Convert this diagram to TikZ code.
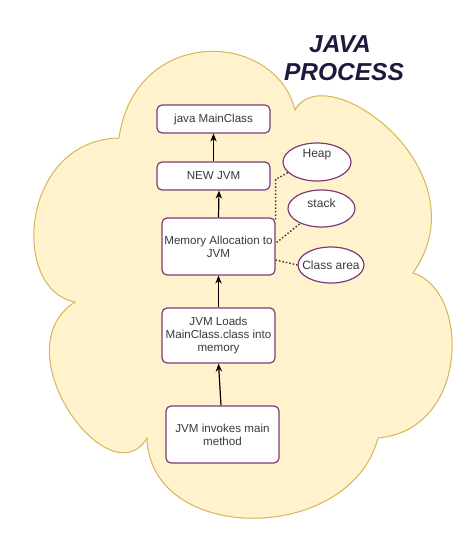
\documentclass[tikz,border=0pt]{standalone}
\usepackage{fontspec}
\setmainfont{Liberation Sans}
\usetikzlibrary{arrows.meta,shapes.geometric}
\definecolor{cloudfill}{HTML}{FFF2CC}
\definecolor{cloudline}{HTML}{D6B656}
\definecolor{boxline}{HTML}{7D3C78}
\definecolor{txt}{HTML}{3A3A3A}
\definecolor{titlec}{HTML}{1E1A3C}
\begin{document}
\begin{tikzpicture}[x=1pt,y=-1pt,
  box/.style={draw=boxline, fill=white, line width=1.2pt, rounded corners=5pt,
    minimum width=113pt, inner sep=0pt, align=center, text=txt,
    font=\fontsize{11.6}{13}\selectfont},
  ell/.style={ellipse, draw=boxline, fill=white, line width=1.2pt, inner sep=0pt},
  ellt/.style={text=txt, inner sep=0pt, font=\fontsize{12}{13}\selectfont},
  arr/.style={-{Stealth[length=8pt,width=6.5pt]}, line width=1.2pt, black},
  dotln/.style={dash pattern=on 1.5pt off 2pt, line width=1.4pt, draw=txt},
  titlest/.style={text=titlec, font=\fontsize{24.5}{28}\selectfont\bfseries\itshape, anchor=base, inner sep=0pt}]
\useasboundingbox (0,0) rectangle (474,549);
% cloud
\filldraw[fill=cloudfill, draw=cloudline, line width=1pt]
  (119,138) .. controls (135,25) and (275,30) .. (295,110)
  .. controls (325,55) and (485,170) .. (413,273)
  .. controls (470,290) and (470,430) .. (378,438)
  .. controls (350,545) and (150,545) .. (147,438)
  .. controls (110,500) and (0,350) .. (75,302)
  .. controls (10,290) and (20,140) .. (119,138) -- cycle;
% title
\node[titlest] (t1) at (340,52) {JAVA};
\node[titlest] (t2) at (344,80) {PROCESS};
% boxes
\node[box, minimum height=28pt] (java) at (213.5,119) {java MainClass};
\node[box, minimum height=28pt] (new) at (213.5,176) {NEW JVM};
\node[box, minimum height=57pt] (mem) at (218.5,246.5) {Memory Allocation to\\JVM};
\node[box, minimum height=55pt] (load) at (218.5,335.5) {JVM Loads\\MainClass.class into\\memory};
\node[box, minimum height=57pt] (inv) at (222.5,434.5) {JVM invokes main\\method};
% ellipses
\node[ell, minimum width=68pt, minimum height=38pt, label={[ellt, yshift=7pt]center:Heap}] (heap) at (317,162) {};
\node[ell, minimum width=67pt, minimum height=37pt, label={[ellt, yshift=5.5pt]center:stack}] (stack) at (321.5,208.5) {};
\node[ell, minimum width=66pt, minimum height=36pt, label={[ellt]center:Class area}] (class) at (331,265) {};
% dotted links
\draw[dotln] ([yshift=-2pt]mem.north east) -- ++(0,-40) -- (heap.200);
\draw[dotln] ([shift={(1,-4)}]mem.east) -- (stack.215);
\draw[dotln] ([yshift=-13.5pt]mem.east) -- (class.west);
% arrows
\draw[arr] (new.north) -- (java.south);
\draw[arr] (mem.north) -- ([xshift=5.5pt]new.south);
\draw[arr] (load.north) -- (mem.south);
\draw[arr] ([xshift=-1.5pt]inv.north) -- (load.south);
\end{tikzpicture}
\end{document}
